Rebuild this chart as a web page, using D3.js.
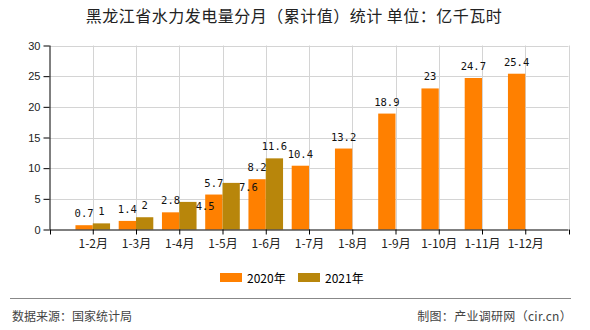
<!DOCTYPE html>
<html><head><meta charset="utf-8">
<script src="https://cdn.jsdelivr.net/npm/d3@7"></script>
<style>
html,body{margin:0;padding:0;background:#fff;}
svg{display:block;}
</style></head>
<body>
<svg id="chart" width="590" height="330"></svg>
<script>
const title = "黑龙江省水力发电量分月（累计值）统计 单位：亿千瓦时";
const categories = ["1-2月","1-3月","1-4月","1-5月","1-6月","1-7月","1-8月","1-9月","1-10月","1-11月","1-12月"];
const values2020 = [0.7, 1.4, 2.8, 5.7, 8.2, 10.4, 13.2, 18.9, 23, 24.7, 25.4];
const values2021 = [1, 2, 4.5, 7.6, 11.6, null, null, null, null, null, null];
const seriesNames = ["2020年", "2021年"];
const yTicks = [0, 5, 10, 15, 20, 25, 30];
const sourceText = "数据来源：国家统计局";
const creditText = "制图：产业调研网（cir.cn）";
// 2021 labels moved beside the bar to avoid collisions (as in the reference)
const sideLabels2021 = ["1-4月", "1-5月"];

const colors = ["#FF8000", "#B8860B"];
const svg = d3.select("#chart");
const X0 = 49.5, X1 = 568.5, YB = 229.5, YT = 45.5;
const x = d3.scalePoint().domain(categories).range([X0, X1]).padding(1);
const y = d3.scaleLinear().domain([0, 30]).range([YB, YT]);
const bw = x.step() * 0.4;
const cjk = "'Noto Sans CJK SC', 'Noto Sans', sans-serif";

// title
svg.append("text").attr("x", 294).attr("y", 22).attr("text-anchor", "middle")
  .attr("xml:space", "preserve").style("white-space", "pre").attr("letter-spacing", 0.5)
  .attr("font-family", cjk).attr("font-size", 16).attr("fill", "#222").text(title);

// grid
const bounds = [X0, ...categories.map(c => x(c)), X1];
const grid = svg.append("g").attr("stroke", "#d4d4d4").attr("stroke-width", 1);
yTicks.filter(t => t > 0).forEach(t => {
  grid.append("line").attr("x1", X0).attr("x2", X1).attr("y1", Math.round(y(t)) + 0.5).attr("y2", Math.round(y(t)) + 0.5);
});
bounds.slice(1).forEach(b => {
  grid.append("line").attr("x1", Math.round(b) + 0.5).attr("x2", Math.round(b) + 0.5).attr("y1", YT).attr("y2", YB);
});

// bars
const gBars = svg.append("g");
categories.forEach((c, i) => {
  const v0 = values2020[i], v1 = values2021[i];
  if (v0 != null) gBars.append("rect").attr("x", x(c) - bw).attr("width", bw)
    .attr("y", y(v0)).attr("height", y(0) - y(v0)).attr("fill", colors[0]);
  if (v1 != null) gBars.append("rect").attr("x", x(c)).attr("width", bw)
    .attr("y", y(v1)).attr("height", y(0) - y(v1)).attr("fill", colors[1]);
});

// value labels
const lab = svg.append("g").attr("font-family", "'DejaVu Sans Mono', 'Liberation Mono', monospace")
  .attr("font-size", 10.5).attr("fill", "#111").attr("text-anchor", "middle");
categories.forEach((c, i) => {
  const v0 = values2020[i], v1 = values2021[i];
  if (v0 != null) lab.append("text").attr("x", x(c) - bw / 2).attr("y", y(v0) - 8).text(v0);
  if (v1 != null) {
    if (sideLabels2021.includes(c)) {
      lab.append("text").attr("x", x(c) + bw * 1.5).attr("y", y(v1) + 8).text(v1);
    } else {
      lab.append("text").attr("x", x(c) + bw / 2).attr("y", y(v1) - 8).text(v1);
    }
  }
});

// y axis
const yAxis = svg.append("g").attr("transform", `translate(${X0},0)`)
  .call(d3.axisLeft(y).tickValues(yTicks).tickSize(6).tickPadding(3));
yAxis.select(".domain").attr("stroke", "#000").attr("d", `M0.5,${YT}V${YB}`);
yAxis.selectAll(".tick line").attr("stroke", "#000");
yAxis.selectAll("text").attr("font-family", "'Liberation Sans', Arial, sans-serif").attr("font-size", 11).attr("fill", "#222");

// x axis
const xAxis = svg.append("g").attr("transform", `translate(0,${YB})`)
  .call(d3.axisBottom(x).tickSize(5).tickPadding(5));
xAxis.select(".domain").attr("stroke", "#000").attr("d", `M${X0},0.5H${X1}`);
xAxis.selectAll(".tick line").attr("stroke", "#000");
xAxis.selectAll("text").attr("font-family", cjk).attr("font-size", 12).attr("fill", "#222");
[X0, X1].forEach(b => xAxis.append("line").attr("x1", Math.round(b) + 0.5).attr("x2", Math.round(b) + 0.5)
  .attr("y1", 0).attr("y2", 5).attr("stroke", "#000"));

// legend
const lg = svg.append("g");
const legendX = [220, 298];
seriesNames.forEach((n, i) => {
  lg.append("rect").attr("x", legendX[i]).attr("y", 273).attr("width", 22).attr("height", 9).attr("fill", colors[i]);
  lg.append("text").attr("x", legendX[i] + 27).attr("y", 282.5).attr("font-family", cjk)
    .attr("font-size", 12).attr("fill", "#000").text(n);
});

// footer
svg.append("line").attr("x1", 10).attr("x2", 571).attr("y1", 298.5).attr("y2", 298.5)
  .attr("stroke", "#888").attr("stroke-width", 1.2);
svg.append("text").attr("x", 12).attr("y", 321).attr("font-family", cjk).attr("font-size", 12)
  .attr("fill", "#444").text(sourceText);
svg.append("text").attr("x", 572).attr("y", 321).attr("text-anchor", "end").attr("font-family", cjk)
  .attr("font-size", 12).attr("fill", "#444").attr("letter-spacing", 0.3).text(creditText);
</script>
</body></html>
